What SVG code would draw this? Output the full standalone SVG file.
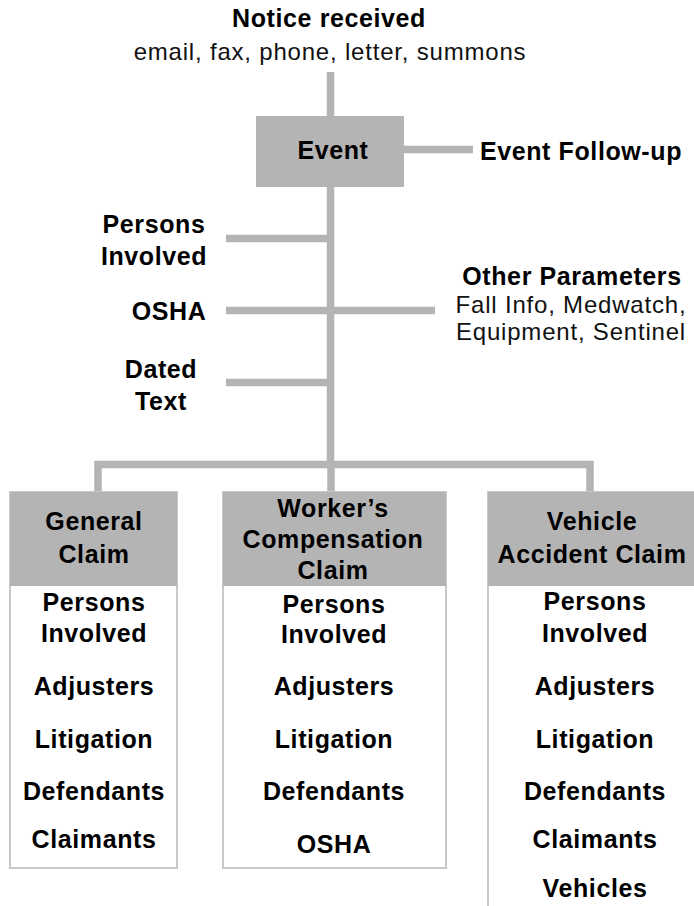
<svg xmlns="http://www.w3.org/2000/svg" width="694" height="906" viewBox="0 0 694 906">
<style>
.b{font-family:"Liberation Sans",Arial,sans-serif;font-weight:bold;font-size:25px;letter-spacing:0.6px;fill:#000;text-anchor:middle}
.r{font-family:"Liberation Sans",Arial,sans-serif;font-size:24px;letter-spacing:0.8px;fill:#111;text-anchor:middle}
.ln{stroke:#b4b4b4;stroke-width:7.5;fill:none;stroke-linecap:butt;stroke-linejoin:miter}
.hd{fill:#b4b4b4}
.bd{fill:#fff;stroke:#c8c8c8;stroke-width:2}
</style>
<rect width="694" height="906" fill="#fff"/>
<g id="connectors">
<path class="ln" d="M330.5 72 V117"/>
<path class="ln" d="M330.5 187 V465"/>
<path class="ln" d="M404 149.5 H473"/>
<path class="ln" d="M226 238.5 H331"/>
<path class="ln" d="M226 310.5 H435"/>
<path class="ln" d="M226 382.5 H331"/>
<path class="ln" d="M98 492 V464.5 H590 V492"/>
<path class="ln" d="M331 464.5 V492"/>
</g>
<g id="notice">
<text class="b" x="329" y="27">Notice received</text>
<text class="r" x="330" y="60">email, fax, phone, letter, summons</text>
</g>
<g id="event">
<rect class="hd" x="256" y="116" width="148" height="71"/>
<text class="b" x="333" y="159">Event</text>
</g>
<g id="event-followup">
<text class="b" x="581" y="160">Event Follow-up</text>
</g>
<g id="persons-involved">
<text class="b" x="154" y="233">Persons</text>
<text class="b" x="154" y="265">Involved</text>
</g>
<g id="osha">
<text class="b" x="169" y="320">OSHA</text>
</g>
<g id="dated-text">
<text class="b" x="161" y="378">Dated</text>
<text class="b" x="161" y="410">Text</text>
</g>
<g id="other-parameters">
<text class="b" x="572" y="285">Other Parameters</text>
<text class="r" x="571" y="313">Fall Info, Medwatch,</text>
<text class="r" x="571" y="340">Equipment,  Sentinel</text>
</g>
<g id="general-claim">
<rect class="bd" x="10" y="492" width="167" height="376"/>
<rect class="hd" x="10" y="492" width="167" height="94"/>
<text class="b" x="94" y="530">General</text>
<text class="b" x="94" y="563">Claim</text>
<text class="b" x="94" y="611">Persons</text>
<text class="b" x="94" y="642">Involved</text>
<text class="b" x="94" y="695">Adjusters</text>
<text class="b" x="94" y="748">Litigation</text>
<text class="b" x="94" y="800">Defendants</text>
<text class="b" x="94" y="848">Claimants</text>
</g>
<g id="workers-comp-claim">
<rect class="bd" x="223" y="492" width="223" height="376"/>
<rect class="hd" x="223" y="492" width="223" height="94"/>
<text class="b" x="333" y="517">Worker’s</text>
<text class="b" x="333" y="548">Compensation</text>
<text class="b" x="333" y="579">Claim</text>
<text class="b" x="334" y="613">Persons</text>
<text class="b" x="334" y="643">Involved</text>
<text class="b" x="334" y="695">Adjusters</text>
<text class="b" x="334" y="748">Litigation</text>
<text class="b" x="334" y="800">Defendants</text>
<text class="b" x="334" y="853">OSHA</text>
</g>
<g id="vehicle-accident-claim">
<rect class="bd" x="488" y="492" width="220" height="430"/>
<rect class="hd" x="488" y="492" width="220" height="94"/>
<text class="b" x="592" y="530">Vehicle</text>
<text class="b" x="592" y="563">Accident Claim</text>
<text class="b" x="595" y="610">Persons</text>
<text class="b" x="595" y="642">Involved</text>
<text class="b" x="595" y="695">Adjusters</text>
<text class="b" x="595" y="748">Litigation</text>
<text class="b" x="595" y="800">Defendants</text>
<text class="b" x="595" y="848">Claimants</text>
<text class="b" x="595" y="897">Vehicles</text>
</g>
</svg>
